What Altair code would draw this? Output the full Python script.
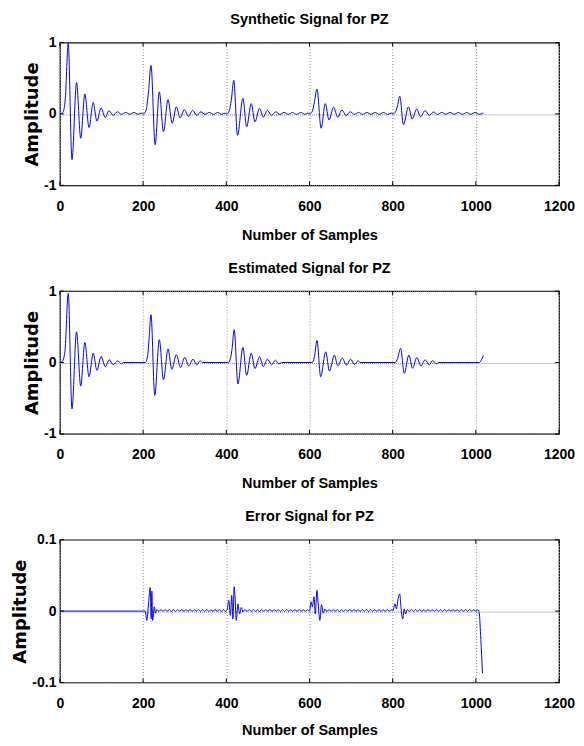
import altair as alt
import pandas as pd

# ---------------- data ----------------
titles = ["Synthetic Signal for PZ", "Estimated Signal for PZ", "Error Signal for PZ"]
x_ticks = [0, 200, 400, 600, 800, 1000, 1200]
y_ticks_sig = [-1, 0, 1]
y_ticks_err = [-0.1, 0, 0.1]

synthetic = [
    (0, 0.0), (7, 0.02), (13, 0.22), (20, 0.99), (29, -0.64), (40, 0.44), (50, -0.34), (60, 0.28),
    (70, -0.19), (80, 0.16), (89, -0.10), (99, 0.085), (109, -0.05), (118, 0.045), (128, -0.02),
    (138, 0.03), (148, -0.005), (158, 0.022), (168, -0.004), (178, 0.02), (188, -0.004), (196, 0.012),
    (201, 0.0), (207, 0.05), (213, 0.31), (219, 0.68), (229, -0.43), (239, 0.31), (249, -0.25),
    (260, 0.2), (270, -0.13), (280, 0.1), (289, -0.057), (299, 0.061), (309, -0.033), (319, 0.05),
    (329, -0.02), (339, 0.03), (349, -0.006), (359, 0.022), (369, -0.006), (379, 0.02), (389, -0.005),
    (397, 0.012),
    (401, 0.0), (407, 0.04), (412, 0.19), (418, 0.47), (427, -0.30), (440, 0.22), (449, -0.18),
    (460, 0.145), (469, -0.11), (480, 0.08), (489, -0.045), (499, 0.05), (509, -0.02), (519, 0.03),
    (529, -0.008), (539, 0.022), (549, -0.006), (559, 0.02), (569, -0.006), (579, 0.02), (589, -0.005),
    (597, 0.012),
    (601, 0.0), (607, 0.04), (612, 0.17), (618, 0.35), (628, -0.20), (638, 0.145), (647, -0.085),
    (658, 0.095), (668, -0.047), (678, 0.056), (688, -0.023), (698, 0.03), (708, -0.006), (718, 0.022),
    (728, -0.005), (738, 0.02), (748, -0.005), (758, 0.02), (768, -0.005), (778, 0.02), (788, -0.005),
    (797, 0.012),
    (801, 0.0), (807, 0.03), (812, 0.12), (817, 0.25), (826, -0.15), (838, 0.10), (847, -0.07),
    (858, 0.07), (867, -0.04), (878, 0.047), (888, -0.02), (898, 0.028), (908, -0.006), (918, 0.022),
    (928, -0.005), (938, 0.02), (948, -0.005), (958, 0.02), (968, -0.005), (978, 0.02), (988, -0.005),
    (998, 0.02), (1008, -0.005), (1018, 0.015),
]

estimated = [
    (0, 0.0), (5, 0.01), (12, 0.15), (20, 0.97), (29, -0.65), (40, 0.43), (50, -0.33), (60, 0.28),
    (70, -0.2), (80, 0.13), (89, -0.11), (99, 0.085), (109, -0.057), (119, 0.038), (128, -0.03),
    (139, 0.024), (148, -0.02), (153, 0.0),
    (205, 0.0), (211, 0.1), (214, 0.3), (219, 0.67), (228, -0.46), (239, 0.32), (249, -0.24),
    (260, 0.19), (269, -0.095), (280, 0.11), (290, -0.07), (300, 0.07), (310, -0.047), (320, 0.047),
    (329, -0.033), (337, 0.024), (343, 0.0),
    (405, 0.0), (411, 0.08), (414, 0.2), (419, 0.46), (428, -0.30), (440, 0.21), (449, -0.18),
    (460, 0.13), (469, -0.085), (480, 0.08), (489, -0.057), (499, 0.047), (509, -0.033), (518, 0.033),
    (526, -0.02), (533, 0.0),
    (606, 0.0), (612, 0.08), (618, 0.31), (627, -0.2), (639, 0.15), (648, -0.12), (660, 0.104),
    (668, -0.047), (679, 0.06), (689, -0.038), (699, 0.047), (708, -0.028), (717, 0.024), (722, 0.0),
    (806, 0.0), (812, 0.06), (819, 0.2), (828, -0.15), (839, 0.104), (848, -0.08), (858, 0.07),
    (868, -0.047), (878, 0.038), (888, -0.033), (896, 0.028), (905, -0.019), (911, 0.0),
    (1008, 0.0), (1013, 0.03), (1018, 0.1),
]

error = [
    (0, 0.0), (205, 0.0), (209, -0.013), (213, 0.01), (217, 0.033), (219.5, -0.011), (221, 0.028),
    (223, -0.013), (227, 0.006), (230, -0.003), (233, 0.002),
    (238, -0.0005), (243, 0.0022), (248, -0.0004), (253, 0.002), (258, -0.0006), (263, 0.0023),
    (268, -0.0005), (273, 0.0021), (278, -0.0004), (283, 0.002), (288, -0.0005), (293, 0.0022),
    (298, -0.0006), (303, 0.0021), (308, -0.0004), (313, 0.0023), (318, -0.0005), (323, 0.002),
    (328, -0.0005), (333, 0.0022), (338, -0.0004), (343, 0.0021), (348, -0.0006), (353, 0.0022),
    (358, -0.0005), (363, 0.002), (368, -0.0004), (373, 0.0023), (378, -0.0005), (383, 0.0021),
    (388, -0.0006), (393, 0.0022), (398, -0.0003),
    (402, 0.002), (406, 0.015), (410, -0.006), (413, 0.022), (416, -0.011), (419, 0.034), (421, 0.02),
    (424, -0.013), (428, 0.01), (432, -0.004), (436, 0.005), (440, -0.001),
    (445, 0.0022), (450, -0.0005), (455, 0.0021), (460, -0.0004), (465, 0.0023), (470, -0.0005),
    (475, 0.002), (480, -0.0006), (485, 0.0022), (490, -0.0004), (495, 0.0021), (500, -0.0005),
    (505, 0.0023), (510, -0.0005), (515, 0.002), (520, -0.0004), (525, 0.0022), (530, -0.0006),
    (535, 0.0021), (540, -0.0005), (545, 0.0022), (550, -0.0004), (555, 0.002), (560, -0.0005),
    (565, 0.0023), (570, -0.0006), (575, 0.0021), (580, -0.0005), (585, 0.0022), (590, -0.0004),
    (595, 0.002),
    (600, 0.0), (604, 0.013), (607, 0.006), (611, 0.02), (614, -0.004), (618, 0.029), (621, 0.01),
    (625, -0.013), (629, 0.009), (633, -0.003), (637, 0.003),
    (642, -0.0005), (647, 0.0022), (652, -0.0004), (657, 0.0021), (662, -0.0005), (667, 0.0023),
    (672, -0.0006), (677, 0.002), (682, -0.0005), (687, 0.0022), (692, -0.0004), (697, 0.0021),
    (702, -0.0005), (707, 0.0023), (712, -0.0005), (717, 0.002), (722, -0.0006), (727, 0.0022),
    (732, -0.0004), (737, 0.0021), (742, -0.0005), (747, 0.0022), (752, -0.0004), (757, 0.002),
    (762, -0.0005), (767, 0.0023), (772, -0.0006), (777, 0.0021), (782, -0.0005), (787, 0.0022),
    (792, -0.0004), (797, 0.002),
    (800, 0.0), (806, 0.01), (809, 0.003), (813, 0.017), (817, 0.024), (820, 0.005), (824, -0.011),
    (828, 0.003), (831, -0.004), (835, 0.002),
    (840, -0.0005), (845, 0.0022), (850, -0.0004), (855, 0.0021), (860, -0.0005), (865, 0.0023),
    (870, -0.0006), (875, 0.002), (880, -0.0005), (885, 0.0022), (890, -0.0004), (895, 0.0021),
    (900, -0.0005), (905, 0.0023), (910, -0.0005), (915, 0.002), (920, -0.0006), (925, 0.0022),
    (930, -0.0004), (935, 0.0021), (940, -0.0005), (945, 0.0022), (950, -0.0004), (955, 0.002),
    (960, -0.0005), (965, 0.0023), (970, -0.0006), (975, 0.0021), (980, -0.0005), (985, 0.0022),
    (990, -0.0004), (995, 0.0021), (1000, -0.0005), (1005, 0.002),
    (1008, -0.002), (1012, -0.04), (1016, -0.087),
]

# ---------------- styling ----------------
W, H = 500, 143
TK = 4
FONT = "Liberation Sans, Arial, sans-serif"
YFONT = "DejaVu Sans, Verdana, sans-serif"
FS = 14
TFS = 14.5
BLUE = "#0000ff"
XT = "Number of Samples"
YT = "Amplitude"


def panel(title, pairs, ydom, yticks, xtitle_pad):
    df = pd.DataFrame(pairs, columns=["n", "a"])
    xs = alt.Scale(domain=[0, 1200], nice=False, zero=False)
    ys = alt.Scale(domain=ydom, nice=False, zero=False)
    xax = alt.Axis(values=x_ticks, labelExpr="datum.value + ''", labelFlush=False,
                   labelPadding=14, titlePadding=xtitle_pad, gridDash=[1, 2])
    yax = alt.Axis(values=yticks, labelExpr="datum.value + ''", labelFlush=False,
                   labelPadding=4, titlePadding=2, titleFont=YFONT, titleFontSize=18,
                   gridDash=[1, 1])
    line = alt.Chart(df).mark_line(
        color=BLUE, strokeWidth=1, interpolate="monotone", clip=True
    ).encode(
        x=alt.X("n:Q", scale=xs, axis=xax, title=XT),
        y=alt.Y("a:Q", scale=ys, axis=yax, title=YT),
    )
    xt = pd.DataFrame({"n": x_ticks})
    yt = pd.DataFrame({"a": yticks})
    tick_top = alt.Chart(xt).mark_rule(color="black").encode(
        x=alt.X("n:Q", scale=xs, axis=xax, title=XT), y=alt.value(0), y2=alt.value(TK))
    tick_bot = alt.Chart(xt).mark_rule(color="black").encode(
        x=alt.X("n:Q", scale=xs, axis=xax, title=XT), y=alt.value(H), y2=alt.value(H - TK))
    tick_l = alt.Chart(yt).mark_rule(color="black").encode(
        y=alt.Y("a:Q", scale=ys, axis=yax, title=YT), x=alt.value(0), x2=alt.value(TK))
    tick_r = alt.Chart(yt).mark_rule(color="black").encode(
        y=alt.Y("a:Q", scale=ys, axis=yax, title=YT), x=alt.value(W), x2=alt.value(W - TK))
    return alt.layer(line, tick_top, tick_bot, tick_l, tick_r).properties(
        width=W, height=H,
        title=alt.TitleParams(title, font=FONT, fontSize=TFS, fontWeight="bold",
                              color="black", anchor="middle", frame="group", offset=8),
    )


chart = alt.vconcat(
    panel(titles[0], synthetic, [-1, 1], y_ticks_sig, 15),
    panel(titles[1], estimated, [-1, 1], y_ticks_sig, 15),
    panel(titles[2], error, [-0.1, 0.1], y_ticks_err, 13),
    spacing=16,
).properties(
    padding={"left": 3, "top": 2, "right": 0, "bottom": 0},
    background="white",
).configure_view(
    stroke="black", strokeWidth=1.2
).configure_axis(
    domain=False, ticks=False, tickSize=0,
    grid=True, gridColor="#8c8c8c", gridWidth=1, gridOpacity=1,
    labelFont=FONT, labelFontSize=FS, labelFontWeight="bold", labelColor="black",
    titleFont=FONT, titleFontSize=TFS, titleFontWeight="bold", titleColor="black",
)

chart.save("out.html", embed_options={"renderer": "svg", "actions": False})
